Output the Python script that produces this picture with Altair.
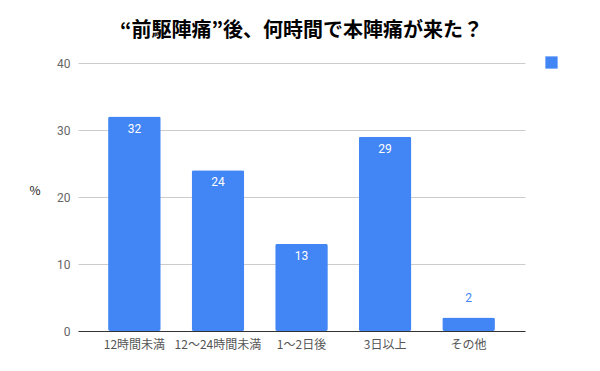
import altair as alt
import pandas as pd

categories = ["12時間未満", "12～24時間未満", "1～2日後", "3日以上", "その他"]
values = [32, 24, 13, 29, 2]
series_name = ["%"] * len(categories)

df = pd.DataFrame({"cat": categories, "v": values, "s": series_name})

FONT = "Noto Sans CJK JP"
BLUE = "#4285F4"

x = alt.X("cat:N", sort=categories, title=None,
          scale=alt.Scale(paddingInner=0.37, paddingOuter=0.36),
          axis=alt.Axis(labelAngle=0, labelColor="#555555", labelFont=FONT,
                        labelFontSize=12, domainColor="#333333", ticks=False,
                        labelPadding=8))
y = alt.Y("v:Q", title="%", scale=alt.Scale(domain=[0, 40]),
          axis=alt.Axis(values=[0, 10, 20, 30, 40], domain=False, ticks=False,
                        labelColor="#666666", labelFont="Roboto", labelFontSize=12,
                        labelPadding=8, gridColor="#cccccc",
                        titleAngle=0, titleFont=FONT, titleFontSize=12,
                        titleFontWeight="normal", titleColor="#222222",
                        titlePadding=22))

bars = alt.Chart(df).mark_bar(cornerRadius=2).encode(
    x=x, y=y,
    color=alt.Color("s:N", scale=alt.Scale(range=[BLUE]),
                    legend=alt.Legend(title=None, labelExpr="''", symbolType="square",
                                      symbolSize=150, symbolStrokeWidth=0,
                                      orient="none", legendX=467, legendY=-7,
                                      padding=0)),
)

inside = alt.Chart(df).transform_filter("datum.v >= 5").mark_text(
    baseline="top", dy=7, color="white", font="Roboto", fontSize=12
).encode(x=alt.X("cat:N", sort=categories), y="v:Q", text="v:Q")

above = alt.Chart(df).transform_filter("datum.v < 5").mark_text(
    baseline="bottom", dy=-13, color=BLUE, font="Roboto", fontSize=12
).encode(x=alt.X("cat:N", sort=categories), y="v:Q", text="v:Q")

chart = alt.layer(bars, inside, above).properties(
    width=447, height=268,
    title=alt.Title("“前駆陣痛”後、何時間で本陣痛が来た？", font=FONT, fontSize=20,
                    fontWeight="bold", color="#000000", anchor="middle", offset=15),
    autosize=alt.AutoSizeParams(type="none"),
    padding={"left": 70, "top": 55, "right": 60, "bottom": 40},
).configure_view(stroke=None)

chart.save("out.html", embed_options={"renderer": "svg", "actions": False})
